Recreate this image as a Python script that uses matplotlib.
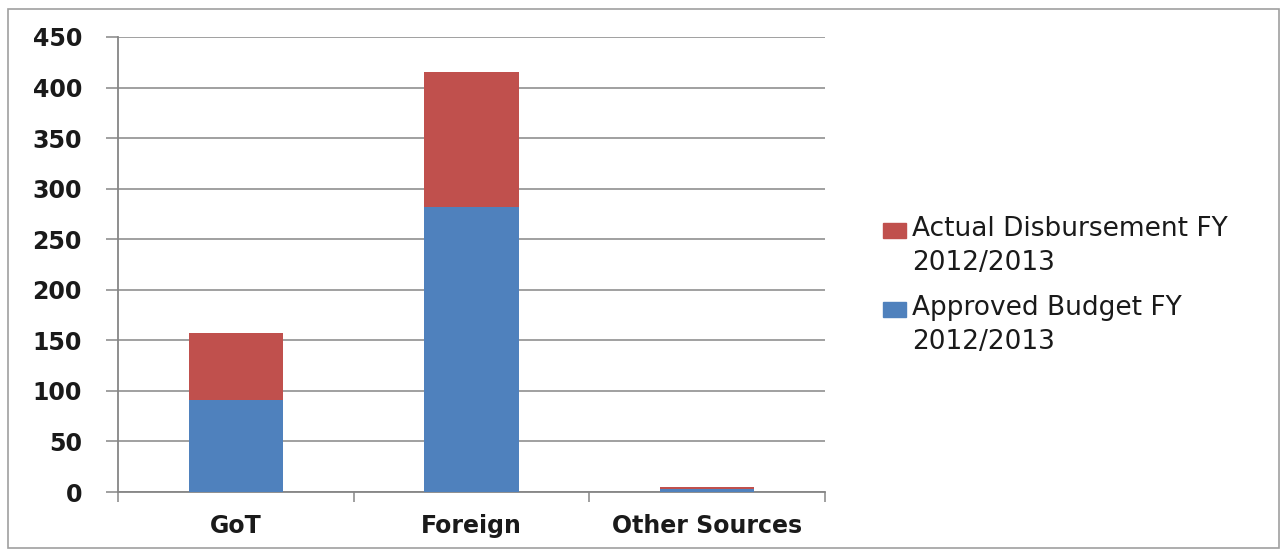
import numpy as np
import matplotlib.pyplot as plt
from matplotlib.patches import Rectangle

categories = ['GoT', 'Foreign', 'Other Sources']
approved = [91, 282, 3]     # Approved Budget FY 2012/2013
actual = [66, 133, 2]       # Actual Disbursement FY 2012/2013
yticks = [0, 50, 100, 150, 200, 250, 300, 350, 400, 450]
series_names = ['Actual Disbursement FY\n2012/2013', 'Approved Budget FY\n2012/2013']

blue = '#4F81BD'
red = '#C0504D'
gray = '#868686'
ink = '#1a1a1a'

plt.rcParams['font.family'] = ['DejaVu Sans']

W, H = 1281, 550
fig = plt.figure(figsize=(W / 100, H / 100), dpi=100)
fig.patches.append(Rectangle((8 / W, 2 / H), 1271 / W, 539 / H, transform=fig.transFigure,
                             fill=False, edgecolor='#A0A0A0', linewidth=1.2))
ax = fig.add_axes([118 / W, 1 - 492 / H, 707 / W, 455 / H])

x = np.arange(len(categories))
b1 = ax.bar(x, approved, width=0.4, color=blue, zorder=3)
b2 = ax.bar(x, actual, width=0.4, bottom=approved, color=red, zorder=3)

ax.set_xlim(-0.5, len(categories) - 0.5)
ax.set_ylim(0, 450)
ax.set_yticks(yticks)
ax.set_yticklabels([str(v) for v in yticks], fontsize=17, fontweight='bold', color=ink)
ax.yaxis.grid(True, color=gray, linewidth=1.1, zorder=0)

# category labels in the middle, tick marks on the boundaries
ax.set_xticks(x)
ax.set_xticklabels(categories, fontsize=17, fontweight='bold', color=ink)
ax.tick_params(axis='x', length=0, pad=16)
ax.set_xticks(np.arange(len(categories) + 1) - 0.5, minor=True)
ax.tick_params(axis='x', which='minor', length=7, color=gray, width=1.1)
ax.tick_params(axis='y', length=9, color=gray, width=1.1, pad=17)

for side in ['top', 'right']:
    ax.spines[side].set_visible(False)
for side in ['left', 'bottom']:
    ax.spines[side].set_color(gray)
    ax.spines[side].set_linewidth(1.3)

# legend: square key next to the first line of each two-line name
for name, color, top in zip(series_names, [red, blue], [223, 302]):
    fig.patches.append(Rectangle((883 / W, 1 - (top + 15) / H), 23 / W, 15 / H,
                                 transform=fig.transFigure, color=color))
    fig.text(912 / W, 1 - (top - 7) / H, name, fontsize=19, color=ink,
             va='top', ha='left', linespacing=1.38)

fig.savefig('out.png', dpi=100)
